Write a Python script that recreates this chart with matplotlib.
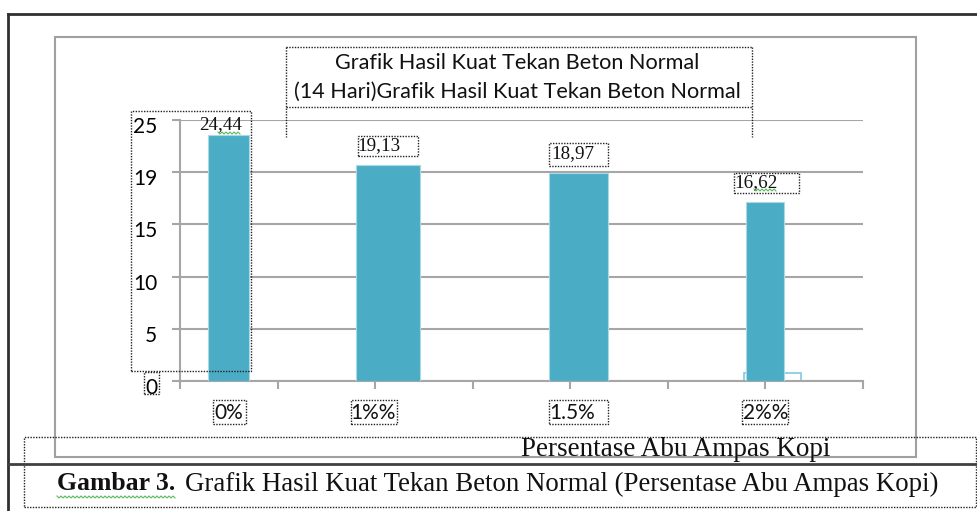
import numpy as np
import matplotlib
matplotlib.use('Agg')
import matplotlib.pyplot as plt
from matplotlib.patches import Rectangle
from matplotlib.lines import Line2D
from matplotlib.transforms import ScaledTranslation

# data
categories = ['0%', '1%%', '1.5%', '2%%']
bar_heights = [23.56, 20.72, 19.95, 17.15]      # drawn heights
value_labels = ['24,44', '19,13', '18,97', '16,62']
ytick_values = [0, 5, 10, 15, 20, 25]
ytick_labels = ['0', '5', '10', '15', '19', '25']
small_bar = 0.77                                # stray little box under the 2% bar

# layout (axis units, 7 slots between 8 ticks)
bar_x = [0.497, 2.132, 4.085, 5.996]
bar_w = [0.42, 0.656, 0.605, 0.39]
cat_x = [0.50, 1.98, 4.02, 6.00]

W, H = 977, 511
SANS = 'Lato'
SERIF = 'Liberation Serif'
TEAL = '#4BACC6'
GREY = '#A6A6A6'


def fx(x):
    return x / W


def fy(y):
    return 1 - y / H


fig = plt.figure(figsize=(W / 100, H / 100), dpi=100)


def dotted_box(x0, y0, x1, y1):
    fig.add_artist(Rectangle((fx(x0), fy(y1)), (x1 - x0) / W, (y1 - y0) / H,
                             transform=fig.transFigure, fill=False, ec='#222222',
                             lw=1, ls=(0, (1, 1))))


def line(x0, y0, x1, y1, **kw):
    fig.add_artist(Line2D([fx(x0), fx(x1)], [fy(y0), fy(y1)],
                          transform=fig.transFigure, **kw))


def squiggle(x0, x1, y):
    xs = np.arange(x0, x1 + 1, 2)
    ys = y + np.where(np.arange(len(xs)) % 2 == 0, -1, 1)
    fig.add_artist(Line2D(xs / W, 1 - ys / H, transform=fig.transFigure,
                          color='#5CB85C', lw=0.8))


# page lines and chart frame
line(8, 14, 977, 14, color='#303030', lw=2)
line(8, 14, 8, 511, color='#303030', lw=2)
line(8, 464, 977, 464, color='#404040', lw=2)
fig.add_artist(Rectangle((fx(55), fy(457)), (916 - 55) / W, (457 - 37) / H,
                         transform=fig.transFigure, fill=False, ec='#A0A0A0', lw=1.5))

ax = fig.add_axes([fx(180), fy(381), (863 - 180) / W, (381 - 120) / H])
ax.set_xlim(0, 7)
ax.set_ylim(0, 25)
ax.set_facecolor('none')

ax.bar([bar_x[3] + 0.077], [small_bar], width=0.585, align='center',
       color='white', edgecolor='#7FCBDD', lw=1.2, zorder=2)
ax.bar(bar_x, bar_heights, width=bar_w, color=TEAL, edgecolor='#A8DAE6',
       lw=0.8, zorder=3)

ax.set_yticks(ytick_values)
ax.set_yticklabels(ytick_labels, fontfamily=SANS, fontsize=15)
ax.set_xticks(range(8))
ax.set_xticklabels([])
ax.yaxis.grid(True, color=GREY, lw=1.5)
ax.set_axisbelow(True)
ax.tick_params(axis='both', direction='out', length=5.8, width=1.5, color=GREY)
ax.tick_params(axis='y', pad=10.5)
for s in ['top', 'right']:
    ax.spines[s].set_visible(False)
for s in ['left', 'bottom']:
    ax.spines[s].set_color(GREY)
    ax.spines[s].set_linewidth(1.5)
for lab in ax.get_yticklabels():
    lab.set_transform(lab.get_transform() + ScaledTranslation(0, -0.05, fig.dpi_scale_trans))

# value labels above the bars
label_dx = [-8, -9, -6, -9]
label_dy = [10, 19, 19, 19]
for x, h, txt, dx, dy in zip(bar_x, bar_heights, value_labels, label_dx, label_dy):
    ax.annotate(txt, (x, h), xytext=(dx * 0.72, dy * 0.72), textcoords='offset points',
                ha='center', va='center', fontfamily=SERIF, fontsize=13.7, color='#111111')

# category labels under the axis
for x, c in zip(cat_x, categories):
    ax.annotate(c, (x, 0), xytext=(0, -32 * 0.72), textcoords='offset points',
                ha='center', va='center', fontfamily=SANS, fontsize=15, color='#111111')

# title
fig.text(fx(517), fy(63), 'Grafik Hasil Kuat Tekan Beton Normal', ha='center',
         va='center', fontfamily=SANS, fontsize=15.6, color='#111111')
fig.text(fx(517), fy(92), '(14 Hari)Grafik Hasil Kuat Tekan Beton Normal', ha='center',
         va='center', fontfamily=SANS, fontsize=15.6, color='#111111')

# axis title and caption
fig.text(fx(676), fy(450), 'Persentase Abu Ampas Kopi', ha='center', va='center',
         fontfamily=SERIF, fontsize=19.5, color='#111111')
fig.text(fx(57), fy(484), 'Gambar 3.', ha='left', va='center',
         fontfamily=SERIF, fontweight='bold', fontsize=18.5, color='#111111')
fig.text(fx(185), fy(484), 'Grafik Hasil Kuat Tekan Beton Normal (Persentase Abu Ampas Kopi)',
         ha='left', va='center', fontfamily=SERIF, fontsize=19.4, color='#111111')

# dotted selection boxes from the document
line(286, 47, 286, 137, color='#222222', lw=1, ls=(0, (1, 1)))
line(752, 47, 752, 137, color='#222222', lw=1, ls=(0, (1, 1)))
line(286, 47, 752, 47, color='#222222', lw=1, ls=(0, (1, 1)))
line(286, 107, 752, 107, color='#222222', lw=1, ls=(0, (1, 1)))
dotted_box(131, 111, 251, 371)
dotted_box(144, 372, 159, 394)
dotted_box(358, 136, 418, 156)
dotted_box(549, 143, 608, 166)
dotted_box(734, 173, 799, 193)
dotted_box(213, 400, 246, 424)
dotted_box(351, 400, 397, 424)
dotted_box(549, 400, 608, 424)
dotted_box(742, 400, 788, 424)
dotted_box(24, 437, 976, 507)

squiggle(57, 176, 497)
squiggle(218, 241, 133)
squiggle(754, 777, 190)

fig.savefig('out.png', dpi=100)
